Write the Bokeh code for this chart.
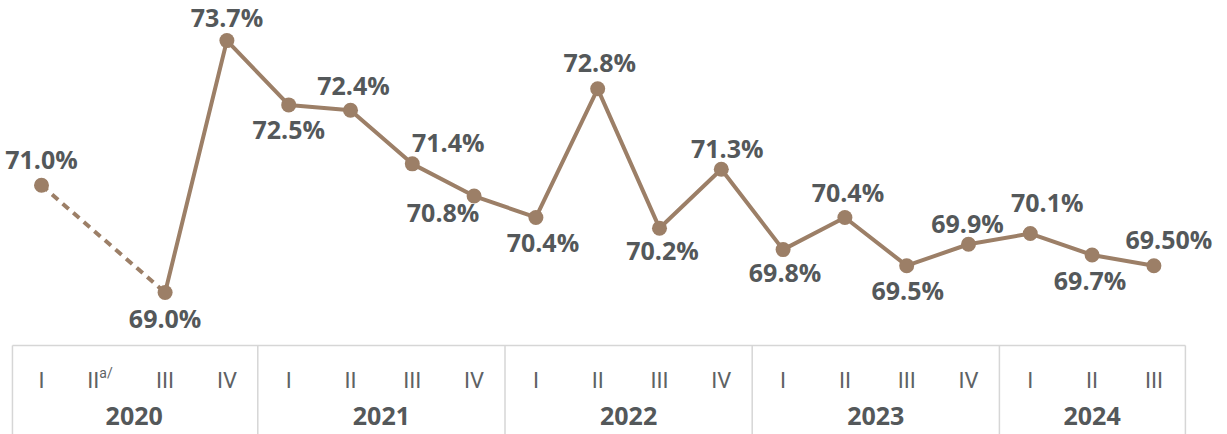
import numpy as np
from bokeh.plotting import figure
from bokeh.models import ColumnDataSource, Range1d
from bokeh.core.properties import value
from bokeh.embed import file_html
from bokeh.resources import INLINE

# ---- data ----
years = ["2020", "2021", "2022", "2023", "2024"]
quarters_per_year = [4, 4, 4, 4, 3]
quarter_labels = ["I", "II", "III", "IV",
                  "I", "II", "III", "IV",
                  "I", "II", "III", "IV",
                  "I", "II", "III", "IV",
                  "I", "II", "III"]
rate = [71.0, None, 69.0, 73.7,
        72.5, 72.4, 71.4, 70.8,
        70.4, 72.8, 70.2, 71.3,
        69.8, 70.4, 69.5, 69.9,
        70.1, 69.7, 69.50]
rate_text = ["71.0%", "", "69.0%", "73.7%",
             "72.5%", "72.4%", "71.4%", "70.8%",
             "70.4%", "72.8%", "70.2%", "71.3%",
             "69.8%", "70.4%", "69.5%", "69.9%",
             "70.1%", "69.7%", "69.50%"]
note_quarter = 1
note_text = "a/"

# ---- label placement (screen px, + is down) ----
lab_dx = [0, 0, 0, 0, 0, 3, 36, -31, 7, 2, 3, 6, 2, 3, 1, -1, 17, -2, 15]
lab_dy = [-26, 0, 26, -24, 24, -25, -22, 16, 25, -27, 22, -21, 22, -25, 24, -21, -32, 25, -27]

LINE = "#9C7F67"
TXT = "#54585A"
QTXT = "#5E6264"
GRID = "#D6D6D6"

n = len(rate)
xs = np.arange(n, dtype=float)
ys = np.array([np.nan if v is None else v for v in rate])

W, H = 1227, 434
p = figure(width=W, height=H, output_backend="svg", toolbar_location=None,
           min_border=0, outline_line_color=None)
p.x_range = Range1d(-0.6634, 19.191)
p.y_range = Range1d(66.3507, 74.4478)
p.xaxis.visible = False
p.yaxis.visible = False
p.xgrid.visible = False
p.ygrid.visible = False
p.background_fill_color = "white"
p.border_fill_color = "white"

# table
top = 68.011
bottom = 66.2
left, right = -0.47, 18.51
bounds = [left]
acc = 0
for q in quarters_per_year[:-1]:
    acc += q
    bounds.append(acc - 0.5)
bounds.append(right)
p.segment(x0=[left], y0=[top], x1=[right], y1=[top], line_color=GRID, line_width=1.5)
p.segment(x0=bounds, y0=[top] * len(bounds), x1=bounds, y1=[bottom] * len(bounds),
          line_color=GRID, line_width=1.5)

# dashed bridge over missing quarters
valid = [i for i in range(n) if rate[i] is not None]
for a, b in zip(valid[:-1], valid[1:]):
    if b - a > 1:
        p.line([a, b], [rate[a], rate[b]], line_color=LINE, line_width=4,
               line_dash="8 6")

p.line(xs, ys, line_color=LINE, line_width=4)
vx = [i for i in valid]
vy = [rate[i] for i in valid]
p.scatter(vx, vy, size=15, fill_color=LINE, line_color=None)

# data labels
src = ColumnDataSource(dict(
    x=[i for i in valid], y=[rate[i] for i in valid],
    t=[rate_text[i] for i in valid],
    dx=[lab_dx[i] for i in valid], dy=[lab_dy[i] for i in valid]))
p.text(x="x", y="y", text="t", x_offset="dx", y_offset="dy", source=src,
       text_align="center", text_baseline="middle",
       text_font=value("Open Sans"), text_font_style="bold",
       text_font_size="25px", text_color=TXT)

# quarter labels
qdx = [0] * n
qdx[note_quarter] = -10
qsrc = ColumnDataSource(dict(x=list(xs), y=[67.358] * n, t=list(quarter_labels), dx=qdx))
p.text(x="x", y="y", text="t", x_offset="dx", source=qsrc,
       text_align="center", text_baseline="middle",
       text_font=value("Roboto"), text_font_style="normal",
       text_font_size="22px", text_color=QTXT)
p.text(x=[note_quarter], y=[67.358], text=[note_text], x_offset=[-4], y_offset=[-8],
       text_align="left", text_baseline="middle",
       text_font=value("Roboto"), text_font_size="14px", text_color=QTXT)

# year labels
centers = []
start = 0
for q in quarters_per_year:
    centers.append(start + (q - 1) / 2)
    start += q
p.text(x=centers, y=[66.705] * len(years), text=years,
       text_align="center", text_baseline="middle",
       text_font=value("Open Sans"), text_font_style="bold",
       text_font_size="25px", text_color=TXT)

open("out.html", "w").write(file_html(p, INLINE))
